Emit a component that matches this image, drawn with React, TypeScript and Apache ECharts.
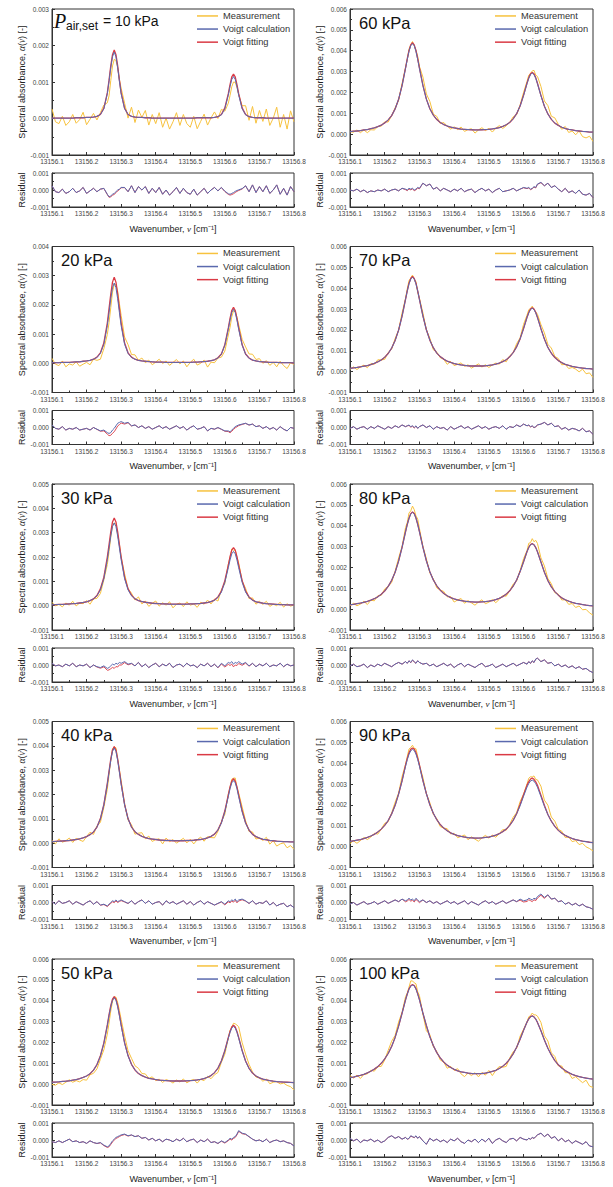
import { useEffect, useRef } from "react";
import * as echarts from "echarts";

// ---------------- data (absorbance values in units of 1e-5) ----------------
const BASE_WAVENUMBER = 13156;
const UNIT = 1e-5;

const waveOffset = [
  0.10, 0.11, 0.12, 0.13, 0.14, 0.15, 0.16, 0.17, 0.18, 0.19,
  0.20, 0.21, 0.22, 0.23, 0.24, 0.25, 0.26, 0.265, 0.27, 0.275,
  0.28, 0.285, 0.29, 0.295, 0.30, 0.31, 0.32, 0.33, 0.34, 0.35,
  0.36, 0.37, 0.38, 0.39, 0.40, 0.41, 0.42, 0.43, 0.44, 0.45,
  0.46, 0.47, 0.48, 0.49, 0.50, 0.51, 0.52, 0.53, 0.54, 0.55,
  0.56, 0.57, 0.58, 0.59, 0.60, 0.61, 0.615, 0.62, 0.625, 0.63,
  0.635, 0.64, 0.65, 0.66, 0.67, 0.68, 0.69, 0.70, 0.71, 0.72,
  0.73, 0.74, 0.75, 0.76, 0.77, 0.78, 0.79, 0.80,
];

const pressureLabels = ["10 kPa", "20 kPa", "30 kPa", "40 kPa", "50 kPa", "60 kPa", "70 kPa", "80 kPa", "90 kPa", "100 kPa"];
const absorbanceMax = [0.003, 0.004, 0.005, 0.005, 0.006, 0.006, 0.006, 0.006, 0.006, 0.006];
const seriesNames = ["Measurement", "Voigt calculation", "Voigt fitting"];

// 10 kPa
const calc10 = [
  1, 1, 1, 1, 1, 1, 1, 2, 2, 2,
  3, 3, 4, 6, 11, 27, 68, 102, 139, 169,
  182, 169, 139, 102, 68, 27, 11, 6, 4, 3,
  3, 2, 2, 1, 1, 1, 1, 1, 1, 1,
  1, 1, 1, 1, 1, 1, 2, 2, 2, 2,
  2, 3, 5, 10, 27, 64, 88, 107, 115, 107,
  88, 64, 27, 10, 5, 3, 2, 2, 2, 1,
  1, 1, 1, 1, 1, 1, 1, 1,
];
const fit10 = [
  1, 1, 1, 1, 1, 1, 1, 2, 2, 2,
  3, 3, 4, 6, 11, 28, 70, 105, 144, 175,
  188, 175, 144, 105, 70, 28, 11, 6, 4, 3,
  3, 2, 2, 1, 1, 1, 1, 1, 1, 1,
  1, 1, 1, 1, 1, 1, 2, 2, 2, 2,
  2, 3, 5, 11, 29, 68, 93, 114, 122, 114,
  93, 68, 29, 11, 5, 3, 2, 2, 2, 1,
  1, 1, 1, 1, 1, 1, 1, 1,
];
const resid10 = [
  25, -10, -15, 5, -20, -10, 10, -15, -5, 15,
  -20, -5, 10, -10, 5, 10, -25, -40, -35, -25,
  -20, -10, 0, 5, 15, 15, -10, 25, -15, 20,
  0, 20, -20, 10, -15, 15, -25, 0, -30, -10,
  15, -20, 10, -15, -25, 5, -30, -10, 10, -20,
  0, 15, -5, 15, -7, -22, -25, -20, -15, -8,
  -3, 1, 8, 25, -10, 30, -15, 20, -10, 25,
  -20, 0, 30, -25, 10, -30, 20, -10,
];

// 20 kPa
const calc20 = [
  2, 2, 2, 3, 3, 3, 4, 5, 5, 7,
  8, 10, 14, 20, 34, 65, 129, 174, 221, 259,
  275, 259, 221, 174, 129, 65, 34, 20, 14, 10,
  8, 7, 6, 5, 4, 4, 4, 3, 3, 3,
  3, 3, 3, 3, 3, 4, 4, 5, 6, 7,
  9, 12, 18, 31, 62, 117, 148, 174, 185, 174,
  148, 117, 62, 31, 17, 11, 8, 6, 5, 4,
  3, 3, 3, 2, 2, 2, 2, 1,
];
const fit20 = [
  2, 2, 2, 3, 3, 3, 4, 5, 5, 7,
  8, 10, 14, 21, 36, 70, 138, 187, 237, 278,
  295, 278, 237, 187, 138, 70, 36, 21, 14, 10,
  8, 7, 6, 5, 4, 4, 4, 3, 3, 3,
  3, 3, 3, 3, 3, 4, 4, 5, 6, 7,
  9, 12, 19, 32, 64, 121, 154, 181, 192, 181,
  154, 121, 64, 32, 18, 11, 8, 6, 5, 4,
  3, 3, 3, 2, 2, 2, 2, 1,
];
const resid20 = [
  15, -5, -10, 5, -15, -5, -10, 0, -15, -10,
  -5, -15, 0, -10, -20, -15, -30, -35, -30, -15,
  -5, 10, 25, 30, 35, 25, 30, 10, 15, 0,
  10, -5, 5, -10, 0, 10, -5, 5, -10, 0,
  10, -5, 5, -15, 0, 10, -10, -5, 5, -20,
  -5, -10, 0, -10, -20, -20, -25, -15, -5, 5,
  10, 15, 20, 25, 15, 20, 5, 10, -5, 5,
  -10, 0, -15, 5, -10, -20, 0, -5,
];

// 30 kPa
const calc30 = [
  4, 4, 5, 5, 6, 7, 8, 9, 11, 13,
  16, 21, 28, 40, 65, 111, 189, 237, 286, 325,
  340, 325, 286, 237, 189, 111, 65, 41, 28, 21,
  17, 14, 12, 10, 9, 8, 7, 7, 6, 6,
  6, 6, 6, 6, 7, 7, 8, 9, 11, 13,
  17, 22, 34, 56, 96, 156, 188, 213, 223, 213,
  188, 156, 96, 56, 34, 22, 16, 13, 10, 8,
  7, 6, 5, 4, 4, 3, 3, 3,
];
const fit30 = [
  4, 4, 5, 5, 6, 7, 8, 9, 11, 13,
  16, 21, 28, 42, 69, 117, 200, 251, 303, 344,
  360, 344, 303, 251, 200, 117, 69, 43, 28, 21,
  17, 14, 12, 10, 9, 8, 7, 7, 6, 6,
  6, 6, 6, 6, 7, 7, 8, 9, 11, 13,
  17, 23, 36, 60, 103, 167, 201, 228, 239, 228,
  201, 167, 103, 60, 36, 23, 16, 13, 10, 8,
  7, 6, 5, 4, 4, 3, 3, 3,
];
const resid30 = [
  10, -5, 0, -10, 5, -5, 10, -10, 0, -5,
  5, -15, 0, -10, -15, -5, -20, -15, -5, 5,
  0, 10, 5, 15, 10, 20, 5, 10, -5, 15,
  -10, 5, -15, 0, 10, -10, 5, -5, 10, -15,
  0, 5, -10, 10, -5, 0, -15, 5, -5, 10,
  -10, 5, -15, 10, -5, 15, 10, 20, 5, 15,
  10, 20, 5, 15, -5, 10, -10, 5, -5, 10,
  -10, 0, -5, 10, -10, 5, -5, 0,
];

// 40 kPa
const calc40 = [
  6, 7, 8, 9, 10, 11, 13, 15, 18, 22,
  27, 35, 46, 66, 100, 157, 242, 292, 340, 377,
  391, 377, 340, 292, 242, 157, 100, 66, 47, 36,
  28, 23, 19, 17, 15, 13, 12, 11, 11, 10,
  10, 10, 10, 11, 11, 12, 14, 15, 18, 22,
  28, 37, 54, 83, 129, 192, 224, 248, 257, 248,
  224, 191, 129, 82, 53, 36, 27, 21, 16, 14,
  11, 10, 8, 7, 6, 6, 5, 5,
];
const fit40 = [
  6, 7, 8, 9, 10, 11, 13, 15, 18, 22,
  27, 35, 46, 66, 101, 159, 246, 296, 345, 383,
  397, 383, 345, 296, 246, 159, 101, 66, 47, 36,
  28, 23, 19, 17, 15, 13, 12, 11, 11, 10,
  10, 10, 10, 11, 11, 12, 14, 15, 18, 22,
  28, 37, 55, 85, 133, 198, 231, 255, 265, 255,
  231, 197, 133, 84, 54, 36, 27, 21, 16, 14,
  11, 10, 8, 7, 6, 6, 5, 5,
];
const resid40 = [
  5, -10, 10, -5, 0, 10, -10, 5, -5, -15,
  0, 10, -10, 5, -15, -10, -20, -10, 0, 10,
  5, 15, 5, 10, 15, 5, -5, 10, -10, 5,
  15, -5, 10, -10, 0, 5, -15, 10, -5, 5,
  -10, 0, 10, -10, 5, -15, 0, 10, -10, 5,
  -5, -15, -5, 5, -10, 10, 5, 15, 10, 20,
  5, 15, 20, 10, -5, 10, -10, 0, -5, 10,
  -15, 0, -20, -10, -5, -25, -15, -30,
];

// 50 kPa
const calc50 = [
  9, 10, 11, 13, 14, 16, 19, 22, 26, 32,
  39, 50, 67, 93, 134, 195, 280, 328, 371, 402,
  414, 402, 371, 328, 281, 196, 135, 94, 68, 51,
  41, 34, 28, 25, 22, 19, 18, 17, 16, 15,
  15, 15, 15, 16, 17, 18, 20, 23, 27, 33,
  41, 55, 76, 110, 159, 220, 248, 269, 277, 269,
  248, 220, 159, 109, 75, 53, 39, 30, 24, 20,
  17, 14, 12, 11, 10, 9, 8, 7,
];
const fit50 = [
  9, 10, 11, 13, 14, 16, 19, 22, 26, 32,
  39, 50, 67, 94, 136, 198, 284, 333, 377, 408,
  420, 408, 377, 333, 285, 199, 137, 95, 68, 51,
  41, 34, 28, 25, 22, 19, 18, 17, 16, 15,
  15, 15, 15, 16, 17, 18, 20, 23, 27, 33,
  41, 55, 77, 112, 162, 224, 253, 274, 283, 274,
  253, 224, 162, 111, 76, 53, 39, 30, 24, 20,
  17, 14, 12, 11, 10, 9, 8, 7,
];
const resid50 = [
  -10, -15, -5, -15, -5, 5, -10, -5, -15, -10,
  -20, -5, -15, -20, -15, -30, -40, -35, -20, -5,
  5, 15, 20, 25, 30, 35, 25, 30, 20, 25,
  10, 15, 0, 10, -5, 5, -10, 5, 0, -10,
  5, -5, 10, -10, 0, 5, -15, 0, -10, 5,
  -15, -10, -20, -5, -15, 0, 10, 5, 15, 20,
  35, 55, 40, 35, 20, 5, -5, 0, -10, 5,
  -15, -5, 0, -10, -5, -15, -20, -35,
];

// 60 kPa
const calc60 = [
  12, 14, 15, 17, 20, 22, 26, 30, 36, 43,
  54, 68, 89, 121, 167, 233, 315, 358, 397, 424,
  434, 424, 397, 358, 315, 234, 168, 122, 91, 70,
  56, 46, 39, 34, 30, 27, 24, 23, 22, 21,
  20, 20, 21, 22, 23, 25, 28, 31, 37, 45,
  56, 73, 98, 135, 185, 243, 268, 286, 293, 286,
  268, 242, 184, 134, 97, 71, 53, 42, 33, 27,
  23, 20, 17, 15, 13, 12, 10, 10,
];
const fit60 = [
  12, 14, 15, 17, 20, 22, 26, 30, 36, 43,
  54, 68, 89, 121, 167, 233, 318, 362, 401, 428,
  438, 428, 401, 362, 318, 234, 168, 122, 91, 70,
  56, 46, 39, 34, 30, 27, 24, 23, 22, 21,
  20, 20, 21, 22, 23, 25, 28, 31, 37, 45,
  56, 73, 98, 135, 187, 245, 271, 289, 296, 289,
  271, 244, 186, 134, 97, 71, 53, 42, 33, 27,
  23, 20, 17, 15, 13, 12, 10, 10,
];
const resid60 = [
  0, -5, 5, -10, 0, -15, -5, -10, 0, -5,
  5, -10, 0, 5, -5, 10, 5, 0, 10, 5,
  10, 0, 5, 15, 10, 40, 25, 35, 5, 15,
  -5, 10, 0, -10, 5, -5, 10, -10, 0, 5,
  -15, 0, 10, -5, 5, -15, 0, 10, -10, -5,
  0, 10, -5, 5, 15, 10, 15, 5, 10, 20,
  15, 35, 45, 25, 40, 15, 25, 5, -10, 10,
  -15, -5, -20, 0, -25, -30, -20, -45,
];

// 70 kPa
const calc70 = [
  16, 18, 20, 23, 26, 29, 34, 40, 47, 56,
  69, 87, 113, 149, 199, 266, 347, 387, 421, 444,
  453, 444, 421, 387, 347, 267, 201, 151, 115, 89,
  72, 60, 50, 44, 39, 35, 32, 30, 28, 27,
  27, 27, 27, 28, 30, 32, 36, 41, 48, 57,
  71, 91, 119, 157, 207, 261, 282, 298, 304, 298,
  282, 260, 206, 156, 116, 88, 68, 53, 43, 35,
  30, 25, 22, 19, 17, 15, 14, 12,
];
const fit70 = [
  16, 18, 20, 23, 26, 29, 34, 40, 47, 56,
  69, 87, 113, 149, 199, 266, 347, 387, 424, 447,
  456, 447, 424, 387, 347, 267, 201, 151, 115, 89,
  72, 60, 50, 44, 39, 35, 32, 30, 28, 27,
  27, 27, 27, 28, 30, 32, 36, 41, 48, 57,
  71, 91, 119, 157, 207, 261, 284, 300, 306, 300,
  284, 260, 206, 156, 116, 88, 68, 53, 43, 35,
  30, 25, 22, 19, 17, 15, 14, 12,
];
const resid70 = [
  -5, 5, -10, 0, 5, -10, 5, -5, 10, 0,
  -10, 5, -5, 10, 0, 15, 5, 10, 15, 5,
  10, 0, 10, -5, 5, 15, 0, 10, -10, 5,
  -5, 0, -15, 5, -10, 0, 10, -5, 5, -10,
  0, 10, -5, 5, -10, 0, 5, -5, 10, -10,
  5, 0, 15, 5, 20, 10, 15, 5, 10, 0,
  5, 15, 20, 30, 15, 25, 5, 10, -10, 0,
  -15, -5, -10, -20, -5, -25, -20, -40,
];

// 80 kPa
const calc80 = [
  21, 23, 26, 29, 33, 37, 43, 50, 59, 71,
  87, 109, 138, 177, 230, 296, 371, 406, 436, 456,
  464, 457, 437, 407, 372, 297, 232, 179, 140, 112,
  91, 75, 64, 55, 49, 44, 41, 38, 36, 35,
  34, 34, 35, 36, 38, 41, 46, 52, 60, 72,
  88, 110, 140, 180, 227, 276, 296, 309, 313, 308,
  295, 275, 226, 177, 137, 107, 84, 67, 54, 45,
  38, 32, 28, 25, 22, 19, 17, 16,
];
const fit80 = [
  21, 23, 26, 29, 33, 37, 43, 50, 59, 71,
  87, 109, 138, 177, 230, 296, 371, 406, 436, 458,
  466, 459, 437, 407, 372, 297, 232, 179, 140, 112,
  91, 75, 64, 55, 49, 44, 41, 38, 36, 35,
  34, 34, 35, 36, 38, 41, 46, 52, 60, 72,
  88, 110, 140, 180, 227, 276, 296, 310, 314, 309,
  295, 275, 226, 177, 137, 107, 84, 67, 54, 45,
  38, 32, 28, 25, 22, 19, 17, 16,
];
const resid80 = [
  -5, 5, -10, -5, 5, -15, 0, -10, 5, -5,
  10, 0, -10, 5, 15, 5, 20, 10, 25, 15,
  30, 20, 10, 25, 15, 5, 10, -5, 5, -10,
  0, 10, -5, 5, -15, 0, 10, -10, 5, -5,
  -15, 0, 10, -10, -5, 5, -15, -5, 5, -10,
  0, 10, -5, 5, 15, 5, 20, 10, 25, 15,
  35, 40, 20, 30, 10, 15, -5, 5, -10, 0,
  -15, -5, -20, -10, -25, -20, -35, -45,
];

// 90 kPa
const calc90 = [
  25, 28, 31, 34, 39, 44, 51, 59, 70, 84,
  102, 125, 157, 198, 252, 316, 385, 417, 443, 460,
  466, 461, 444, 418, 386, 317, 254, 201, 160, 129,
  106, 89, 76, 66, 59, 53, 49, 46, 43, 42,
  41, 41, 42, 44, 46, 50, 55, 62, 72, 84,
  102, 126, 158, 196, 242, 286, 303, 315, 319, 314,
  302, 285, 240, 193, 154, 122, 97, 78, 64, 54,
  46, 39, 34, 30, 26, 24, 21, 19,
];
const fit90 = [
  25, 28, 31, 34, 39, 44, 51, 59, 70, 84,
  102, 125, 157, 198, 252, 316, 391, 423, 450, 467,
  473, 468, 451, 424, 392, 317, 254, 201, 160, 129,
  106, 89, 76, 66, 59, 53, 49, 46, 43, 42,
  41, 41, 42, 44, 46, 50, 55, 62, 72, 84,
  102, 126, 158, 202, 249, 295, 312, 324, 329, 323,
  311, 294, 247, 199, 154, 122, 97, 78, 64, 54,
  46, 39, 34, 30, 26, 24, 21, 19,
];
const resid90 = [
  -10, 0, -15, -5, 5, -10, -5, 5, -10, 0,
  10, -5, 5, 15, 5, 20, 10, 15, 25, 15,
  20, 10, 25, 15, 5, 15, 0, 10, -5, 5,
  -10, 0, 10, -5, 5, -10, 0, 10, -10, 5,
  -5, -15, 0, 10, -5, 5, -10, 0, 10, -5,
  5, 15, 5, 20, 10, 15, 25, 20, 15, 25,
  20, 35, 50, 30, 45, 20, 25, 5, 10, -10,
  0, -15, -5, -20, -10, -25, -30, -40,
];

// 100 kPa
const calc100 = [
  31, 34, 38, 42, 47, 54, 62, 72, 84, 100,
  121, 147, 181, 224, 278, 340, 404, 432, 455, 470,
  475, 471, 456, 433, 405, 341, 281, 227, 185, 151,
  126, 106, 91, 80, 71, 64, 59, 56, 53, 51,
  50, 50, 51, 53, 56, 61, 66, 75, 86, 100,
  120, 145, 177, 215, 258, 298, 313, 323, 326, 322,
  312, 296, 256, 212, 172, 140, 113, 93, 77, 65,
  55, 47, 41, 36, 32, 29, 26, 24,
];
const fit100 = [
  31, 34, 38, 42, 47, 54, 62, 72, 84, 100,
  121, 147, 181, 224, 278, 340, 404, 432, 457, 472,
  477, 473, 458, 433, 405, 341, 281, 227, 185, 151,
  126, 106, 91, 80, 71, 64, 59, 56, 53, 51,
  50, 50, 51, 53, 56, 61, 66, 75, 86, 100,
  120, 145, 177, 215, 258, 298, 313, 324, 327, 323,
  312, 296, 256, 212, 172, 140, 113, 93, 77, 65,
  55, 47, 41, 36, 32, 29, 26, 24,
];
const resid100 = [
  10, -5, 5, -15, 0, -5, 5, -10, 0, -15,
  -5, 15, 25, 10, 20, 5, 15, 5, 10, 25,
  20, 15, 25, 10, 20, -5, -25, 10, -5, 5,
  -10, 0, -15, 5, -5, 10, -10, -20, 0, -10,
  5, -15, 5, -10, 10, -20, 0, 10, -5, -15,
  5, 10, -5, 15, 5, 0, 10, 5, 15, 10,
  20, 30, 40, 20, 35, 10, 20, -5, 10, -10,
  0, -20, -5, -15, -25, -10, -35, -40,
];

const calcSets = [calc10, calc20, calc30, calc40, calc50, calc60, calc70, calc80, calc90, calc100];
const fitSets = [fit10, fit20, fit30, fit40, fit50, fit60, fit70, fit80, fit90, fit100];
const residSets = [resid10, resid20, resid30, resid40, resid50, resid60, resid70, resid80, resid90, resid100];

// ---------------- layout & style ----------------
const FONT = "'Liberation Sans', Arial, Helvetica, sans-serif";
const SERIF = "'Liberation Serif', 'Times New Roman', serif";
const C_MEAS = "#F7C23E";
const C_CALC = "#5A69AE";
const C_FIT = "#DA3A45";
const AXIS_C = "#333";
const COL_LEFT = [52, 350];
const COL_WIDTH = [242, 243];
const ROW_TOP0 = 9;
const ROW_STEP = 237.5;
const MAIN_H = 146;
const RES_OFFSET = 164;
const RES_H = 34;

function fmtX(v: number) {
  return v.toFixed(1);
}
function fmtY(v: number) {
  const r = Math.abs(v) < 1e-12 ? 0 : v;
  return r.toFixed(3);
}

function buildOption() {
  const grids: any[] = [];
  const xAxes: any[] = [];
  const yAxes: any[] = [];
  const series: any[] = [];
  const legends: any[] = [];
  const elements: any[] = [];

  for (let p = 0; p < 10; p++) {
    const col = p < 5 ? 0 : 1;
    const row = p % 5;
    const left = COL_LEFT[col];
    const width = COL_WIDTH[col];
    const top = ROW_TOP0 + ROW_STEP * row;
    const resTop = top + RES_OFFSET;
    const calc = calcSets[p];
    const fit = fitSets[p];
    const resid = residSets[p];

    const xs = waveOffset.map((o) => BASE_WAVENUMBER + o);
    const measData = xs.map((x, i) => [x, (calc[i] + resid[i]) * UNIT]);
    const calcData = xs.map((x, i) => [x, calc[i] * UNIT]);
    const fitData = xs.map((x, i) => [x, fit[i] * UNIT]);
    const residCalcData = xs.map((x, i) => [x, resid[i] * UNIT]);
    const residFitData = xs.map((x, i) => [x, (calc[i] + resid[i] - fit[i]) * UNIT]);

    const gMain = grids.length;
    grids.push({ left, top, width, height: MAIN_H, show: true, borderColor: AXIS_C, borderWidth: 1, backgroundColor: "transparent" });
    const gRes = grids.length;
    grids.push({ left, top: resTop, width, height: RES_H, show: true, borderColor: AXIS_C, borderWidth: 1, backgroundColor: "transparent" });

    const xCommon = {
      type: "value",
      min: 13156.1,
      max: 13156.8,
      interval: 0.1,
      axisLine: { show: true, onZero: false, lineStyle: { color: AXIS_C, width: 1 } },
      axisTick: { show: true, inside: true, length: 3, lineStyle: { color: AXIS_C } },
      minorTick: { show: true, splitNumber: 2, length: 2, lineStyle: { color: AXIS_C } },
      splitLine: { show: false },
      axisLabel: { fontSize: 6.5, color: "#444", margin: 3, fontFamily: FONT, formatter: fmtX },
    };
    xAxes.push({ ...xCommon, gridIndex: gMain });
    xAxes.push({
      ...xCommon,
      gridIndex: gRes,
      name: "Wavenumber, {i|ν} [cm⁻¹]",
      nameLocation: "middle",
      nameGap: 17,
      nameTextStyle: {
        fontSize: 9,
        color: "#222",
        fontFamily: FONT,
        rich: { i: { fontSize: 9, fontStyle: "italic", fontFamily: SERIF, color: "#222" } },
      },
    });

    const yCommon = {
      type: "value",
      interval: 0.001,
      axisLine: { show: true, onZero: false, lineStyle: { color: AXIS_C, width: 1 } },
      axisTick: { show: true, inside: true, length: 3, lineStyle: { color: AXIS_C } },
      minorTick: { show: true, splitNumber: 2, length: 2, lineStyle: { color: AXIS_C } },
      splitLine: { show: false },
      axisLabel: { fontSize: 6.5, color: "#444", margin: 3, fontFamily: FONT, formatter: fmtY },
      nameLocation: "middle",
      nameRotate: 90,
    };
    yAxes.push({
      ...yCommon,
      gridIndex: gMain,
      min: -0.001,
      max: absorbanceMax[p],
      name: "Spectral absorbance, {i|α}({i|ν}) [-]",
      nameGap: 25,
      nameTextStyle: {
        fontSize: 9,
        color: "#222",
        fontFamily: FONT,
        rich: { i: { fontSize: 9.5, fontStyle: "italic", fontFamily: SERIF, color: "#222" } },
      },
    });
    yAxes.push({
      ...yCommon,
      gridIndex: gRes,
      min: -0.001,
      max: 0.001,
      name: "Residual",
      nameGap: 25,
      nameTextStyle: { fontSize: 9, color: "#222", fontFamily: FONT },
    });

    const lineBase = { type: "line", symbol: "none", showSymbol: false, silent: true, animation: false };
    series.push({ ...lineBase, name: seriesNames[0], xAxisIndex: gMain, yAxisIndex: gMain, data: measData, lineStyle: { color: C_MEAS, width: 1 }, itemStyle: { color: C_MEAS }, z: 2 });
    series.push({ ...lineBase, name: seriesNames[2], xAxisIndex: gMain, yAxisIndex: gMain, data: fitData, lineStyle: { color: C_FIT, width: 1.3 }, itemStyle: { color: C_FIT }, z: 3 });
    series.push({ ...lineBase, name: seriesNames[1], xAxisIndex: gMain, yAxisIndex: gMain, data: calcData, lineStyle: { color: C_CALC, width: 1 }, itemStyle: { color: C_CALC }, z: 4 });
    series.push({ ...lineBase, name: seriesNames[2], xAxisIndex: gRes, yAxisIndex: gRes, data: residFitData, lineStyle: { color: C_FIT, width: 0.9 }, itemStyle: { color: C_FIT }, z: 3 });
    series.push({ ...lineBase, name: seriesNames[1], xAxisIndex: gRes, yAxisIndex: gRes, data: residCalcData, lineStyle: { color: C_CALC, width: 1 }, itemStyle: { color: C_CALC }, z: 4 });

    legends.push({
      data: seriesNames.map((n) => ({ name: n, icon: "rect" })),
      orient: "vertical",
      left: left + 145,
      top: top + 2.3,
      padding: 0,
      itemWidth: 21,
      itemHeight: 1.5,
      itemGap: 3.8,
      selectedMode: false,
      textStyle: { fontSize: 9.3, lineHeight: 9.3, color: "#333", fontFamily: FONT },
    });

    if (p === 0) {
      elements.push({ type: "text", x: 54, y: 20.5, silent: true, style: { text: "P", fontSize: 20, fontStyle: "italic", fontFamily: SERIF, fill: "#111", verticalAlign: "middle", align: "left" } });
      elements.push({ type: "text", x: 66, y: 26, silent: true, style: { text: "air,set", fontSize: 12, fontFamily: FONT, fill: "#111", verticalAlign: "middle", align: "left" } });
      elements.push({ type: "text", x: 103, y: 20.5, silent: true, style: { text: "= " + pressureLabels[0], fontSize: 14, fontFamily: FONT, fill: "#111", verticalAlign: "middle", align: "left" } });
    } else {
      elements.push({ type: "text", x: left + 9, y: top + 13.5, silent: true, style: { text: pressureLabels[p], fontSize: 16.5, fontFamily: FONT, fill: "#111", verticalAlign: "middle", align: "left" } });
    }
  }

  return {
    animation: false,
    backgroundColor: "#ffffff",
    textStyle: { fontFamily: FONT },
    grid: grids,
    xAxis: xAxes,
    yAxis: yAxes,
    legend: legends,
    series,
    graphic: { elements },
  };
}

export default function App() {
  const ref = useRef<HTMLDivElement>(null);
  useEffect(() => {
    if (!ref.current) return;
    const chart = echarts.init(ref.current, undefined, { renderer: "svg" });
    chart.setOption(buildOption() as any);
    return () => chart.dispose();
  }, []);
  return <div ref={ref} style={{ position: "absolute", left: 0, top: 0, width: 613, height: 1187, background: "#fff" }} />;
}
